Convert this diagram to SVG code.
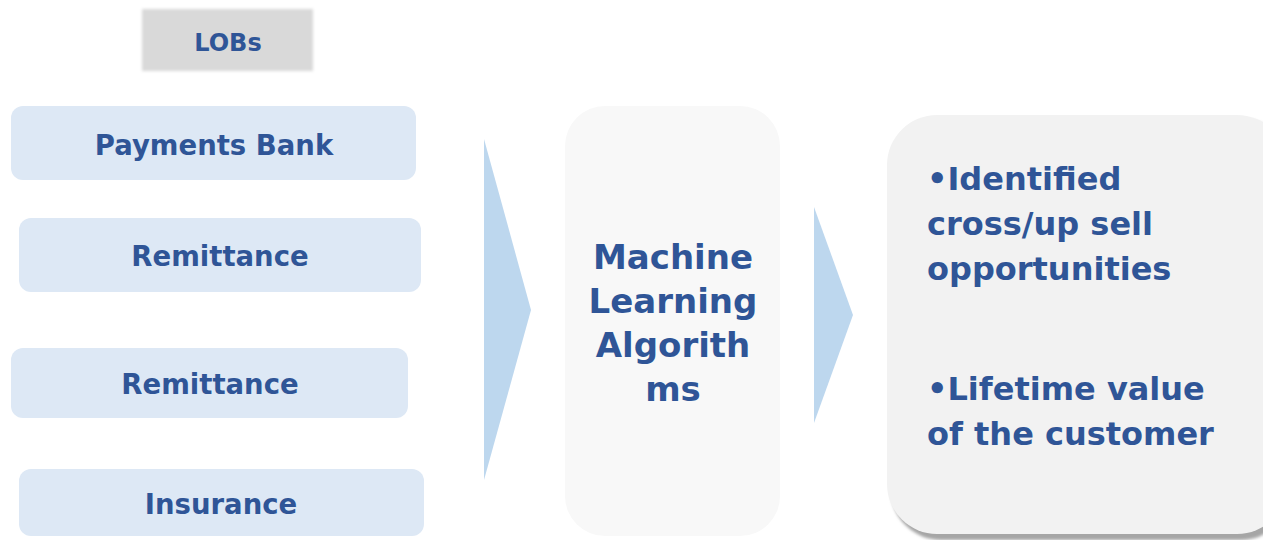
<svg xmlns="http://www.w3.org/2000/svg" width="1263" height="540" viewBox="0 0 1263 540">
<defs>
<style>
.t{font-family:"DejaVu Sans","Liberation Sans",sans-serif;font-weight:bold;fill:#2f5597;}
.lob{fill:#dde8f5;}
.arr{fill:#bdd7ee;}
</style>
<filter id="blur" x="-10%" y="-20%" width="120%" height="140%"><feGaussianBlur stdDeviation="1.5"/></filter>
<filter id="sh" x="-5%" y="-5%" width="115%" height="115%"><feGaussianBlur stdDeviation="1.5"/></filter>
</defs>
<rect width="1263" height="540" fill="#ffffff"/>
<g id="lobs-header">
<rect x="142" y="9" width="171" height="62" fill="#d9d9d9" filter="url(#blur)"/>
<text class="t" x="228" y="51" font-size="24" text-anchor="middle">LOBs</text>
</g>
<g id="payments-bank">
<rect class="lob" x="11" y="106" width="405" height="74" rx="12"/>
<text class="t" x="214" y="155" font-size="27.5" text-anchor="middle">Payments Bank</text>
</g>
<g id="remittance-1">
<rect class="lob" x="19" y="218" width="402" height="74" rx="12"/>
<text class="t" x="220" y="266" font-size="27.5" text-anchor="middle">Remittance</text>
</g>
<g id="remittance-2">
<rect class="lob" x="11" y="348" width="397" height="70" rx="12"/>
<text class="t" x="210" y="394" font-size="27.5" text-anchor="middle">Remittance</text>
</g>
<g id="insurance">
<rect class="lob" x="19" y="469" width="405" height="67" rx="12"/>
<text class="t" x="221" y="514" font-size="27.5" text-anchor="middle">Insurance</text>
</g>
<g id="connectors">
<polygon class="arr" points="484,139 531,310 484,480"/>
<polygon class="arr" points="814,207 853,315 814,423"/>
</g>
<g id="ml">
<rect x="565" y="106" width="215" height="430" rx="40" fill="#f8f8f8"/>
<text class="t" font-size="34" text-anchor="middle"><tspan x="673" y="269">Machine</tspan><tspan x="673" y="313">Learning</tspan><tspan x="673" y="357">Algorith</tspan><tspan x="673" y="401">ms</tspan></text>
</g>
<g id="outcomes">
<rect x="891" y="119" width="400" height="421" rx="50" fill="#a6a6a6" filter="url(#sh)"/>
<rect x="887" y="115" width="400" height="419" rx="50" fill="#f2f2f2"/>
<text class="t" font-size="32"><tspan x="927" y="190">•Identified</tspan><tspan x="927" y="235">cross/up sell</tspan><tspan x="927" y="280">opportunities</tspan><tspan x="927" y="400">•Lifetime value</tspan><tspan x="927" y="445">of the customer</tspan></text>
</g>
</svg>
